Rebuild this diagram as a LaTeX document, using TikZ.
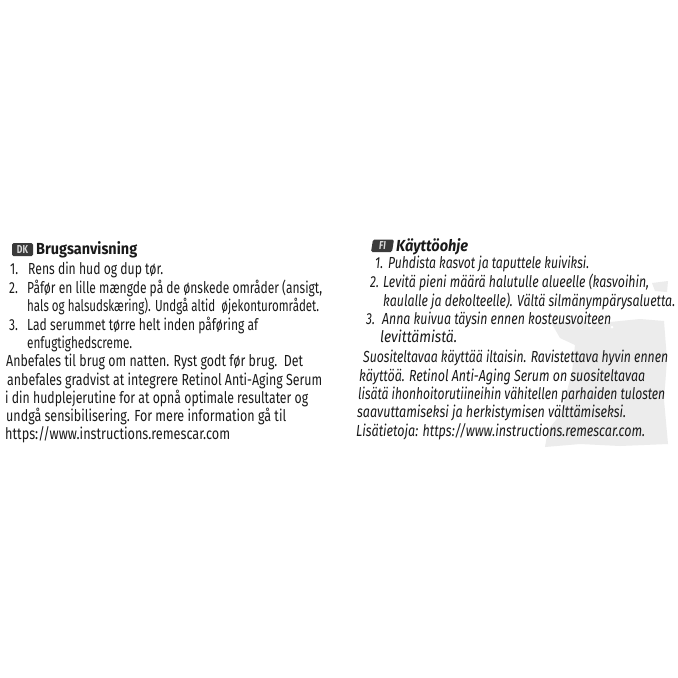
\documentclass[tikz,border=0pt]{standalone}
\usepackage{fontspec}
\setmainfont{Fira Sans}
\usepackage{graphicx}
\newsavebox\fitbox
\newcommand\fitto[2]{\sbox\fitbox{#2}\pgfmathsetmacro\fitscale{#1/\the\wd\fitbox}\scalebox{\fitscale}[1]{\usebox\fitbox}}
\newcommand\narrow[1]{\scalebox{0.75}[1]{#1}}
\definecolor{ink}{HTML}{1A1A1A}
\definecolor{smudge}{HTML}{ECECEC}
\definecolor{badge}{HTML}{3A3A3A}
\tikzset{
  txt/.style={anchor=base west,inner sep=0pt,text=ink,font=\fontsize{16}{17}\selectfont},
  itx/.style={txt,font=\fontsize{16}{17}\selectfont\itshape},
  head/.style={txt,font=\fontsize{16}{17}\selectfont\bfseries},
  ihead/.style={txt,font=\fontsize{16}{17}\selectfont\bfseries\itshape},
  badgebox/.style={fill=badge,rounded corners=1.5pt},
  badgetxt/.style={anchor=center,inner sep=0pt,text=white!85!black,font=\fontsize{11.5}{12}\selectfont\bfseries}
}
\begin{document}
\begin{tikzpicture}[x=1pt,y=-1pt]
\fill[white] (0,0) rectangle (678,678);
\useasboundingbox (0,0) rectangle (678,678);
% smudge on the right
\fill[smudge] (552,324) -- (575,321) -- (600,323) -- (640,319) -- (664,321) -- (667,360) -- (664,400) -- (668,444) -- (620,446) -- (580,444) -- (545,447) -- (548,430) -- (560,415) -- (566,395) -- (572,372) -- (575,345) -- (560,338) -- cycle;
\fill[smudge] (652,283) -- (668,281) -- (667,292) -- (655,291) -- cycle;
\fill[white] (590,325) circle (2);
\fill[white] (612,327) circle (1.5);
% ---------------- left column (DK)
\fill[badgebox] (12,243) rectangle (33,256);
\node[badgetxt] (dkb) at (22.5,249.5) {\narrow{DK}};
\node[head] (dkh) at (36,254) {\fitto{101}{Brugsanvisning}};
\node[txt] (d1n) at (10,274) {\narrow{1.}};
\node[txt] (d1) at (28,274) {\fitto{135}{Rens din hud og dup tør.}};
\node[txt] (d2n) at (9,293) {\narrow{2.}};
\node[txt] (d2) at (27,293) {\fitto{295}{Påfør en lille mængde på de ønskede områder (ansigt,}};
\node[txt] (d2b) at (27,311) {\fitto{292}{hals og halsudskæring). Undgå altid\ \ øjekonturområdet.}};
\node[txt] (d3n) at (9,330) {\narrow{3.}};
\node[txt] (d3) at (27,330) {\fitto{231}{Lad serummet tørre helt inden påføring af}};
\node[txt] (d3b) at (27,348) {\fitto{105}{enfugtighedscreme.}};
\node[txt] (dp1) at (6,366) {\fitto{297}{Anbefales til brug om natten. Ryst godt før brug.\ \ Det}};
\node[txt] (dp2) at (7,385) {\fitto{315}{anbefales gradvist at integrere Retinol Anti-Aging Serum}};
\node[txt] (dp3) at (5,403) {\fitto{303}{i din hudplejerutine for at opnå optimale resultater og}};
\node[txt] (dp4) at (6,421) {\fitto{280}{undgå sensibilisering. For mere information gå til}};
\node[txt] (dp5) at (5,439) {\fitto{225}{https://www.instructions.remescar.com}};
% ---------------- right column (FI)
\fill[badgebox] (373,239.5) -- (394,239.5) -- (392,252) -- (371,252) -- cycle;
\node[badgetxt,font=\fontsize{11.5}{12}\selectfont\bfseries\itshape] (fib) at (382.5,246) {\narrow{FI}};
\node[ihead] (fih) at (396,251) {\fitto{72}{Käyttöohje}};
\node[itx] (f1n) at (375,268) {\narrow{1.}};
\node[itx] (f1) at (388,268) {\fitto{201}{Puhdista kasvot ja taputtele kuiviksi.}};
\node[itx] (f2n) at (370,287) {\narrow{2.}};
\node[itx] (f2) at (383,287) {\fitto{266}{Levitä pieni määrä halutulle alueelle (kasvoihin,}};
\node[itx] (f2b) at (383,306) {\fitto{292}{kaulalle ja dekolteelle). Vältä silmänympärysaluetta.}};
\node[itx] (f3n) at (366,324) {\narrow{3.}};
\node[itx] (f3) at (382,324) {\fitto{229}{Anna kuivua täysin ennen kosteusvoiteen}};
\node[itx] (f3b) at (380,342) {\fitto{77}{levittämistä.}};
\node[itx] (fp1) at (363,362) {\fitto{305}{Suositeltavaa käyttää iltaisin. Ravistettava hyvin ennen}};
\node[itx] (fp2) at (359,381) {\fitto{286}{käyttöä. Retinol Anti-Aging Serum on suositeltavaa}};
\node[itx] (fp3) at (358,399) {\fitto{307}{lisätä ihonhoitorutiineihin vähitellen parhaiden tulosten}};
\node[itx] (fp4) at (357,417) {\fitto{269}{saavuttamiseksi ja herkistymisen välttämiseksi.}};
\node[itx] (fp5) at (356,436) {\fitto{289}{Lisätietoja: https://www.instructions.remescar.com.}};
\end{tikzpicture}
\end{document}
